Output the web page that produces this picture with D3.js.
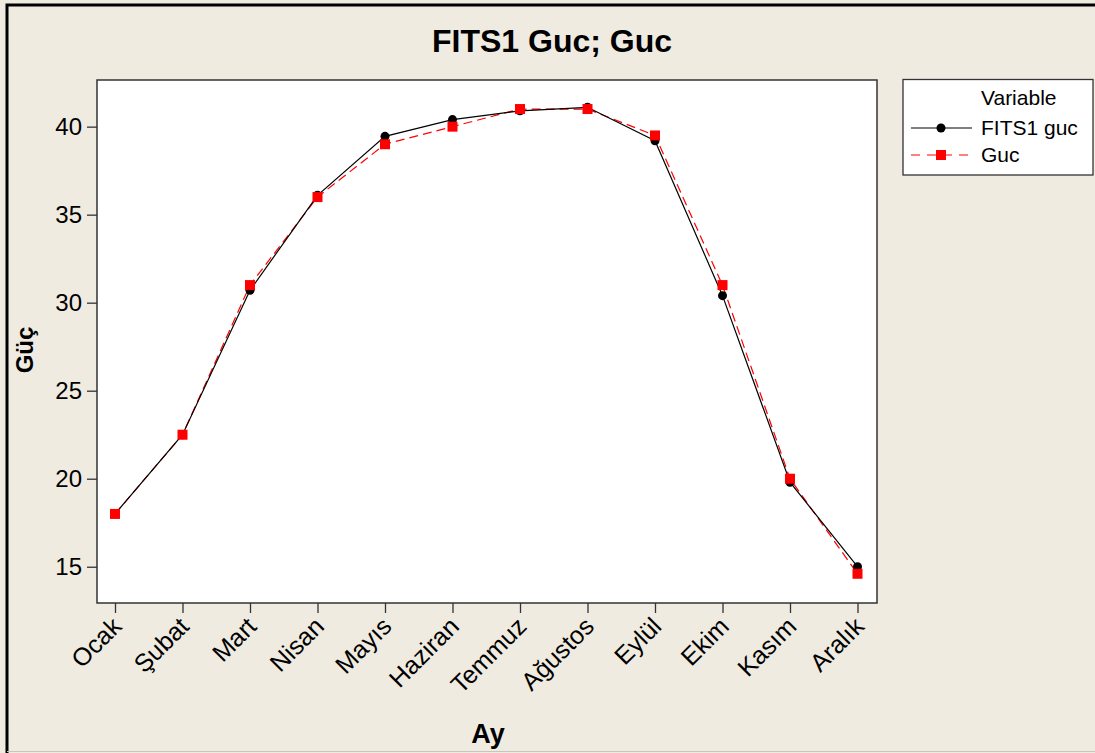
<!DOCTYPE html>
<html>
<head>
<meta charset="utf-8">
<script src="https://cdn.jsdelivr.net/npm/d3@7"></script>
<style>
  html, body { margin: 0; padding: 0; background: #efebe1; }
  svg { display: block; }
  text { font-family: "Liberation Sans", Arial, sans-serif; fill: #000; }
</style>
</head>
<body>
<script>
// Monthly power: fitted values (FITS1 guc) and observed values (Guc)
const months = ["Ocak", "Şubat", "Mart", "Nisan", "Mayıs", "Haziran",
                "Temmuz", "Ağustos", "Eylül", "Ekim", "Kasım", "Aralık"];
const fitsGuc = [18.0, 22.5, 30.7, 36.1, 39.45, 40.4, 40.9, 41.1, 39.2, 30.4, 19.8, 15.0];
const guc     = [18.0, 22.5, 31.0, 36.0, 39.0, 40.0, 41.0, 41.0, 39.5, 31.0, 20.0, 14.6];
const yTicks  = [15, 20, 25, 30, 35, 40];

const W = 1095, H = 753;
const plot = { left: 97, top: 80, right: 877, bottom: 603 };

const svg = d3.select("body").append("svg")
  .attr("width", W).attr("height", H);

// Background and outer frame
svg.append("rect").attr("x", 0).attr("y", 0).attr("width", W).attr("height", H)
  .attr("fill", "#efebe1");
svg.append("path")
  .attr("d", `M7,${H} L7,5 L${W},5`)
  .attr("fill", "none").attr("stroke", "#000").attr("stroke-width", 3);
svg.append("line").attr("x1", 7).attr("x2", W).attr("y1", H - 1.5).attr("y2", H - 1.5)
  .attr("stroke", "#c9c5bc").attr("stroke-width", 1);

// Scales
const x = d3.scalePoint().domain(months).range([115, 857.5]);
const y = d3.scaleLinear().domain([12.94, 42.65]).range([plot.bottom, plot.top]);

// Plot area
svg.append("rect")
  .attr("x", plot.left).attr("y", plot.top)
  .attr("width", plot.right - plot.left).attr("height", plot.bottom - plot.top)
  .attr("fill", "#fff").attr("stroke", "#333").attr("stroke-width", 1.5);

// Y axis
const yAxis = svg.append("g")
  .attr("transform", `translate(${plot.left},0)`)
  .call(d3.axisLeft(y).tickValues(yTicks).tickSize(10).tickPadding(5));
yAxis.select(".domain").remove();
yAxis.selectAll(".tick line").attr("stroke", "#333").attr("stroke-width", 1.3);
yAxis.selectAll(".tick text")
  .style("font-family", "'Liberation Sans', Arial, sans-serif")
  .style("font-size", "24px").attr("fill", "#000");

// X axis
const xAxis = svg.append("g")
  .attr("transform", `translate(0,${plot.bottom})`)
  .call(d3.axisBottom(x).tickSize(10).tickFormat(() => ""));
xAxis.select(".domain").remove();
xAxis.selectAll(".tick line").attr("stroke", "#333").attr("stroke-width", 1.3);

svg.append("g").selectAll("text")
  .data(months).join("text")
  .attr("transform", d => `translate(${x(d) + 8},${plot.bottom + 25}) rotate(-45)`)
  .attr("text-anchor", "end")
  .style("font-size", "25px")
  .text(d => d);

// Titles
svg.append("text")
  .attr("x", 552).attr("y", 52)
  .attr("text-anchor", "middle")
  .style("font-size", "32px").style("font-weight", "bold")
  .text("FITS1 Guc; Guc");

svg.append("text")
  .attr("x", 488).attr("y", 743)
  .attr("text-anchor", "middle")
  .style("font-size", "27px").style("font-weight", "bold")
  .text("Ay");

svg.append("text")
  .attr("transform", `translate(33,350) rotate(-90)`)
  .attr("text-anchor", "middle")
  .style("font-size", "24px").style("font-weight", "bold")
  .text("Güç");

// Series lines
const line = d3.line().x((d, i) => x(months[i])).y(d => y(d));

svg.append("path").datum(guc)
  .attr("d", line)
  .attr("fill", "none").attr("stroke", "#ff0000").attr("stroke-width", 1.2)
  .attr("stroke-dasharray", "9,5");

svg.append("path").datum(fitsGuc)
  .attr("d", line)
  .attr("fill", "none").attr("stroke", "#000").attr("stroke-width", 1.2);

// Markers
svg.append("g").selectAll("circle")
  .data(fitsGuc).join("circle")
  .attr("cx", (d, i) => x(months[i])).attr("cy", d => y(d))
  .attr("r", 4.5).attr("fill", "#000");

svg.append("g").selectAll("rect")
  .data(guc).join("rect")
  .attr("x", (d, i) => x(months[i]) - 5).attr("y", d => y(d) - 5)
  .attr("width", 10).attr("height", 10).attr("fill", "#ff0000");

// Legend
const lg = svg.append("g");
lg.append("rect")
  .attr("x", 903).attr("y", 79.5).attr("width", 190).attr("height", 95.5)
  .attr("fill", "#fff").attr("stroke", "#333").attr("stroke-width", 1.3);
lg.append("text").attr("x", 981).attr("y", 105)
  .style("font-size", "21px").text("Variable");
lg.append("line").attr("x1", 911).attr("x2", 972).attr("y1", 128).attr("y2", 128)
  .attr("stroke", "#000").attr("stroke-width", 1.2);
lg.append("circle").attr("cx", 941).attr("cy", 128).attr("r", 4.5).attr("fill", "#000");
lg.append("text").attr("x", 981).attr("y", 135)
  .style("font-size", "21px").text("FITS1 guc");
lg.append("line").attr("x1", 911).attr("x2", 968).attr("y1", 155).attr("y2", 155)
  .attr("stroke", "#ff0000").attr("stroke-width", 1.2).attr("stroke-dasharray", "9,7");
lg.append("rect").attr("x", 936).attr("y", 150).attr("width", 10).attr("height", 10)
  .attr("fill", "#ff0000");
lg.append("text").attr("x", 981).attr("y", 162)
  .style("font-size", "21px").text("Guc");
</script>
</body>
</html>
